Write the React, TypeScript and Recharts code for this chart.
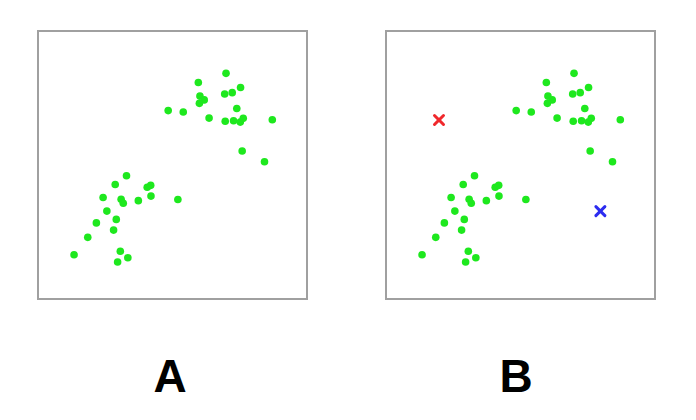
import React from 'react';
import { ScatterChart, Scatter, XAxis, YAxis, ReferenceArea } from 'recharts';

const clusterX = [69.9, 59.6, 75.3, 69.4, 72.2, 60.2, 61.8, 60.0, 73.9, 48.4, 54.0, 63.6, 69.6, 72.7, 75.2, 76.3, 87.1, 75.9, 84.2,
  32.9, 28.7, 40.6, 41.9, 24.2, 30.9, 31.7, 37.3, 42.0, 52.0, 25.6, 29.1, 21.7, 28.1, 18.5, 13.4, 30.6, 33.4, 29.6];
const clusterY = [84.2, 80.8, 78.9, 76.5, 77.0, 75.7, 74.3, 73.0, 71.1, 70.3, 69.8, 67.5, 66.3, 66.5, 66.0, 67.4, 66.9, 55.2, 51.2,
  46.0, 42.7, 41.7, 42.4, 37.9, 37.2, 35.7, 36.7, 38.4, 37.1, 32.8, 29.7, 28.4, 25.7, 23.0, 16.5, 17.8, 15.4, 13.8];
const centroidX = [19.7, 79.7];
const centroidY = [66.8, 32.8];
const centroidColors = ['#f0282c', '#2c2cf0'];
const panelLabels = ['A', 'B'];

const points = clusterX.map((x, i) => ({ x, y: clusterY[i] }));
const centroids = centroidX.map((x, i) => ({ x, y: centroidY[i], color: centroidColors[i] }));

const Dot = (props: any) => <circle cx={props.cx} cy={props.cy} r={3.8} fill="#1ee81e" />;
const XMark = (props: any) => {
  const { cx, cy, payload } = props;
  const s = 4.5;
  return (
    <g stroke={payload.color} strokeWidth={3} strokeLinecap="round">
      <line x1={cx - s} y1={cy - s} x2={cx + s} y2={cy + s} />
      <line x1={cx - s} y1={cy + s} x2={cx + s} y2={cy - s} />
    </g>
  );
};

function Panel({ showCentroids }: { showCentroids: boolean }) {
  return (
    <ScatterChart width={271} height={270} margin={{ top: 1, right: 1, bottom: 1, left: 1 }}>
      <XAxis type="number" dataKey="x" domain={[0, 100]} hide />
      <YAxis type="number" dataKey="y" domain={[0, 100]} hide />
      <ReferenceArea x1={0} x2={100} y1={0} y2={100} fill="#ffffff" fillOpacity={0} stroke="#a0a0a0" strokeWidth={2} ifOverflow="visible" />
      <Scatter data={points} shape={Dot} isAnimationActive={false} />
      {showCentroids && <Scatter data={centroids} shape={XMark} isAnimationActive={false} />}
    </ScatterChart>
  );
}

export default function App() {
  const lefts = [37, 385];
  const labelCenters = [170, 516];
  return (
    <div style={{ position: 'absolute', left: 0, top: 0, width: 696, height: 420, background: '#fff', fontFamily: '"Liberation Sans", Arial, sans-serif' }}>
      {lefts.map((l, i) => (
        <div key={i} style={{ position: 'absolute', left: l, top: 30 }}>
          <Panel showCentroids={i === 1} />
        </div>
      ))}
      {panelLabels.map((t, i) => (
        <div key={t} style={{ position: 'absolute', left: labelCenters[i] - 40, width: 80, top: 350, textAlign: 'center', fontSize: 46, fontWeight: 'bold', lineHeight: '52px', color: '#000' }}>
          {t}
        </div>
      ))}
    </div>
  );
}
